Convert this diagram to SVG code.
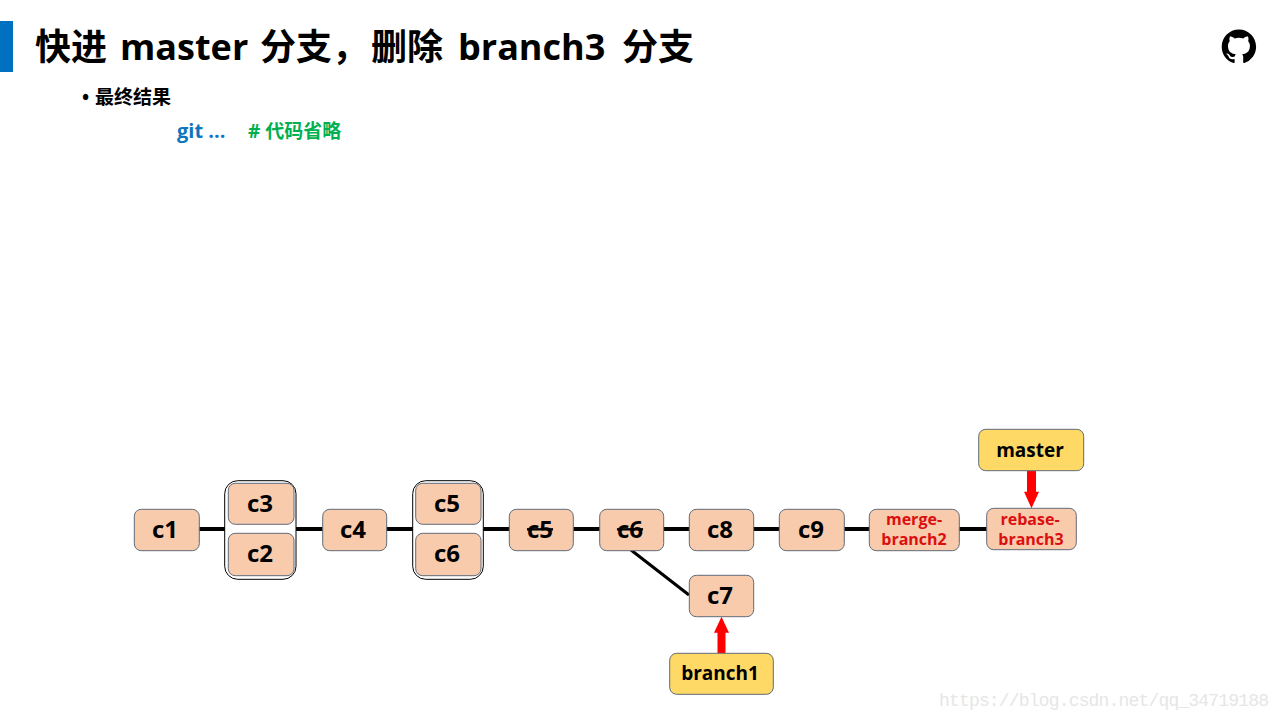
<svg xmlns="http://www.w3.org/2000/svg" width="1280" height="720" viewBox="0 0 1280 720">
<style>
text{font-family:"Open Sans","Noto Sans CJK SC",sans-serif;font-weight:700;fill:#000}
.n rect{fill:#F8CBAD;stroke:#5F6B78;stroke-width:1}
.y rect{fill:#FFD966;stroke:#5F6B78;stroke-width:1}
.n text{font-size:24px;text-anchor:middle}
.y text{font-size:19px;text-anchor:middle}
.s{text-decoration:line-through;text-decoration-thickness:1.5px}
.n text.r{font-size:16px;fill:#DC0F0F}
.g{fill:#fff;stroke:#000;stroke-width:1}
.l{stroke:#000;stroke-width:4;fill:none}
.a{fill:#FF0000;stroke:none}
</style>
<rect id="title-bar" x="0" y="21" width="13" height="51" fill="#0070C0"/>
<text id="title" y="60" font-size="36"><tspan x="35">快进</tspan> <tspan x="120">master</tspan> <tspan x="260">分支，</tspan><tspan x="371">删除</tspan> <tspan x="458">branch3</tspan> <tspan x="622">分支</tspan></text>
<text id="bullet" x="82" y="104" font-size="19">•</text>
<text id="result" x="95" y="104" font-size="19">最终结果</text>
<text id="git" x="177" y="138" font-size="20" style="fill:#0F75BC">git ...</text>
<text id="comment" x="248" y="138" font-size="19" style="fill:#00B050"># 代码省略</text>
<path id="github" transform="translate(1221.7 29.5) scale(2.15)" fill="#000" d="M8 0C3.58 0 0 3.58 0 8c0 3.54 2.29 6.53 5.47 7.59.4.07.55-.17.55-.38 0-.19-.01-.82-.01-1.49-2.01.37-2.53-.49-2.69-.94-.09-.23-.48-.94-.82-1.13-.28-.15-.68-.52-.01-.53.63-.01 1.08.58 1.23.82.72 1.21 1.87.87 2.33.66.07-.52.28-.87.51-1.07-1.78-.2-3.64-.89-3.64-3.95 0-.87.31-1.59.82-2.15-.08-.2-.36-1.02.08-2.12 0 0 .67-.21 2.2.82.64-.18 1.32-.27 2-.27.68 0 1.36.09 2 .27 1.53-1.04 2.2-.82 2.2-.82.44 1.1.16 1.92.08 2.12.51.56.82 1.27.82 2.15 0 3.07-1.87 3.75-3.65 3.95.29.25.54.73.54 1.48 0 1.07-.01 1.93-.01 2.2 0 .21.15.46.55.38A8.013 8.013 0 0016 8c0-4.42-3.58-8-8-8z"/>
<g id="connectors">
<path class="l" d="M199 529H225M296 529H323M386 529H413M483 529H510M573 529H600M663 529H690M753 529H780M844 529H870M959 529H987"/>
<path class="l" style="stroke-width:3" d="M631 550L689 595"/>
<path class="a" d="M717.5 653V632.7H714L721.5 616.7L729 632.7H725.5V653Z"/>
<path class="a" d="M1027 470.7V491.7H1024L1031.5 508.3L1039 491.7H1036V470.7Z"/>
</g>
<g id="group-c3-c2"><rect class="g" x="224.7" y="480.7" width="71.3" height="98.6" rx="13"/></g>
<g id="group-c5-c6"><rect class="g" x="412.7" y="480.7" width="70.6" height="98.6" rx="13"/></g>
<g id="c1" class="n"><rect x="134.3" y="509.3" width="65" height="41.4" rx="7"/><text x="165" y="538">c1</text></g>
<g id="c3" class="n"><rect x="228.3" y="483.3" width="65.7" height="41" rx="7"/><text x="260" y="512">c3</text></g>
<g id="c2" class="n"><rect x="228.3" y="533.3" width="65.7" height="42.4" rx="7"/><text x="260" y="562">c2</text></g>
<g id="c4" class="n"><rect x="322.7" y="509.3" width="64" height="41.4" rx="7"/><text x="353" y="538">c4</text></g>
<g id="c5-top" class="n"><rect x="415.7" y="483.3" width="65.3" height="41" rx="7"/><text x="447" y="512">c5</text></g>
<g id="c6-bottom" class="n"><rect x="415.7" y="533.3" width="65.3" height="42.4" rx="7"/><text x="447" y="562">c6</text></g>
<g id="c5" class="n"><rect x="509.3" y="509.3" width="64" height="41.4" rx="7"/><text class="s" x="540" y="538">c5</text></g>
<g id="c6" class="n"><rect x="599.7" y="509.3" width="64" height="41.4" rx="7"/><text class="s" x="630" y="538">c6</text></g>
<g id="c8" class="n"><rect x="689.3" y="509.3" width="64.4" height="41.4" rx="7"/><text x="720" y="538">c8</text></g>
<g id="c9" class="n"><rect x="779.3" y="509.3" width="65" height="41.4" rx="7"/><text x="811" y="538">c9</text></g>
<g id="merge-branch2" class="n"><rect x="869.3" y="509.3" width="90" height="41.4" rx="7"/><text class="r" x="914" y="525">merge-</text><text class="r" x="914" y="545">branch2</text></g>
<g id="rebase-branch3" class="n"><rect x="986.7" y="508.3" width="89.6" height="41.4" rx="7"/><text class="r" x="1030" y="525">rebase-</text><text class="r" x="1031" y="545">branch3</text></g>
<g id="c7" class="n"><rect x="689.3" y="575.3" width="64.4" height="41.4" rx="7"/><text x="720" y="604">c7</text></g>
<g id="branch1" class="y"><rect x="669.7" y="653.3" width="103.6" height="41" rx="7"/><text x="720" y="680">branch1</text></g>
<g id="master" class="y"><rect x="978.7" y="429.3" width="105" height="41.4" rx="7"/><text x="1030" y="457">master</text></g>
<text id="watermark" x="939" y="706" textLength="330" style="font-family:'Liberation Mono',monospace;font-weight:400;fill:#E6E6E6;font-size:18px">https://blog.csdn.net/qq_34719188</text>
</svg>
